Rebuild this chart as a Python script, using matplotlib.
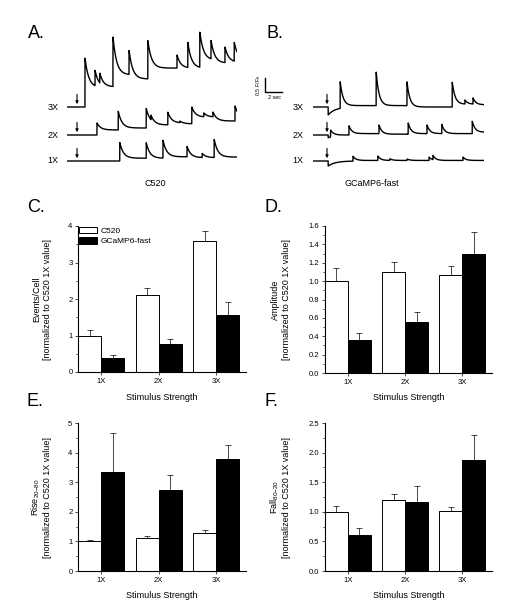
import numpy as np
import matplotlib
matplotlib.use("Agg")
import matplotlib.pyplot as plt
from matplotlib.lines import Line2D
from matplotlib.patches import Patch

plt.rcParams['font.family'] = ['Liberation Sans', 'DejaVu Sans']
plt.rcParams['mathtext.fontset'] = 'custom'
plt.rcParams['mathtext.rm'] = 'Liberation Sans'
plt.rcParams['mathtext.it'] = 'Liberation Sans:italic'

# ---- bar chart data ----
stim = ['1X', '2X', '3X']
series = ['C520', 'GCaMP6-fast']

events_c520 = [1.0, 2.12, 3.6]
events_c520_err = [0.14, 0.19, 0.25]
events_gc = [0.38, 0.78, 1.57]
events_gc_err = [0.09, 0.12, 0.36]

amp_c520 = [1.0, 1.1, 1.07]
amp_c520_err = [0.14, 0.11, 0.10]
amp_gc = [0.36, 0.56, 1.29]
amp_gc_err = [0.07, 0.10, 0.24]

rise_c520 = [1.0, 1.1, 1.27]
rise_c520_err = [0.06, 0.07, 0.10]
rise_gc = [3.35, 2.73, 3.77]
rise_gc_err = [1.3, 0.5, 0.47]

fall_c520 = [1.0, 1.2, 1.01]
fall_c520_err = [0.10, 0.10, 0.07]
fall_gc = [0.6, 1.16, 1.87]
fall_gc_err = [0.12, 0.27, 0.42]

# ---- trace data: event time [s], peak dF/F, level it decays to ----
a3_t = [2.25, 3.5, 4.1, 5.75, 7.75, 10.1, 13.75, 15.1, 16.6, 18.0, 19.75, 20.9]
a3_peak = [1.75, 1.32, 1.21, 2.5, 2.04, 2.39, 1.86, 2.32, 2.68, 2.39, 2.14, 2.32]
a3_floor = [0.7, 0.7, 0.72, 1.15, 1.0, 1.39, 1.39, 1.39, 1.68, 1.57, 1.6, 1.68]

a2_t = [3.75, 6.4, 9.9, 10.5, 12.6, 14.1, 15.6, 17.1, 18.25, 21.0]
a2_peak = [0.43, 0.86, 0.96, 0.71, 0.82, 0.5, 1.0, 0.79, 0.82, 1.04]
a2_floor = [0.18, 0.25, 0.4, 0.36, 0.43, 0.4, 0.64, 0.64, 0.5, 0.6]

a1_t = [6.6, 9.9, 12.0, 15.0, 16.9, 18.4]
a1_peak = [0.66, 0.66, 0.74, 0.53, 0.27, 0.77]
a1_floor = [0.1, 0.1, 0.15, 0.12, 0.12, 0.14]

b3_t = [1.9, 3.4, 7.9, 11.75, 17.4, 19.0, 20.0]
b3_peak = [-0.28, 0.9, 1.25, 0.9, 0.9, 0.25, 0.33]
b3_floor = [0.0, 0.05, 0.05, 0.0, 0.1, 0.1, 0.08]

b2_t = [1.9, 2.2, 4.5, 8.25, 11.9, 14.25, 16.1, 19.9]
b2_peak = [-0.1, 0.18, 0.33, 0.36, 0.43, 0.36, 0.38, 0.5]
b2_floor = [0.0, 0.0, 0.05, 0.03, 0.05, 0.05, 0.05, 0.1]

b1_t = [1.9, 5.0, 8.1, 9.6, 11.75, 14.5, 15.0, 18.75]
b1_peak = [-0.18, 0.17, 0.18, 0.08, 0.07, 0.14, 0.2, 0.14]
b1_floor = [0.0, 0.02, 0.02, 0.02, 0.02, 0.02, 0.02, 0.02]

W, H = 524, 606
fig = plt.figure(figsize=(W / 100, H / 100), dpi=100)


def px_ax(left, top, right, bottom):
    return fig.add_axes([left / W, 1 - bottom / H, (right - left) / W, (bottom - top) / H])


def ftext(x, y, s, **kw):
    fig.text(x / W, 1 - y / H, s, **kw)


def build(tt, ev_t, peaks, floors, tau):
    y = np.zeros_like(tt)
    for i, t0 in enumerate(ev_t):
        t1 = ev_t[i + 1] if i + 1 < len(ev_t) else tt[-1] + 1
        m = (tt >= t0) & (tt < t1)
        # slower recovery for the stimulus artefact dips
        k = tau * 2.5 if peaks[i] < 0 else tau
        y[m] = floors[i] + (peaks[i] - floors[i]) * np.exp(-(tt[m] - t0) / k)
    return y


def trace_panel(left, right, T, traces, arrow_t, tau):
    ax = px_ax(left, 20, right, 172)
    ax.set_xlim(0, T)
    ax.set_ylim(-11 / 28, 141 / 28)
    ax.axis('off')
    tt = np.linspace(0, T, 2000)
    for (ev_t, pk, fl, off) in traces:
        ax.plot(tt, off + build(tt, ev_t, pk, fl, tau), color='k', lw=1.0)
        ax.annotate('', xy=(arrow_t, off + 0.1), xytext=(arrow_t, off + 0.45),
                    arrowprops=dict(arrowstyle='-|>', color='k', lw=0.8,
                                    mutation_scale=4, shrinkA=0, shrinkB=0))
    return ax


offsets = [54 / 28, 26 / 28, 0.0]
trace_panel(67, 237, 21.25,
            [(a3_t, a3_peak, a3_floor, offsets[0]),
             (a2_t, a2_peak, a2_floor, offsets[1]),
             (a1_t, a1_peak, a1_floor, offsets[2])], 1.25, 0.45)
trace_panel(313, 484, 21.375,
            [(b3_t, b3_peak, b3_floor, offsets[0]),
             (b2_t, b2_peak, b2_floor, offsets[1]),
             (b1_t, b1_peak, b1_floor, offsets[2])], 1.75, 0.35)

for lab, yy in zip(['3X', '2X', '1X'], [108, 135, 161]):
    ftext(53, yy, lab, fontsize=6.5, ha='center', va='center')
    ftext(298, yy, lab, fontsize=6.5, ha='center', va='center')
ftext(155, 184, 'C520', fontsize=6.5, ha='center', va='center')
ftext(372, 184, 'GCaMP6-fast', fontsize=6.5, ha='center', va='center')

# scale bar
fig.add_artist(Line2D([265 / W, 265 / W, 282 / W], [1 - 78 / H, 1 - 92 / H, 1 - 92 / H],
                      transform=fig.transFigure, color='k', lw=1))
ftext(259, 85, '0.5 F/F$_0$', fontsize=4, rotation=90, ha='center', va='center')
ftext(274, 97.5, '2 sec', fontsize=4, ha='center', va='center')

# panel letters
for lab, x, y in [('A.', 28, 33), ('B.', 266, 33), ('C.', 27, 207),
                  ('D.', 265, 207), ('E.', 27, 402), ('F.', 265, 402)]:
    ftext(x, y, lab, fontsize=13, ha='left', va='center')


def bar_panel(box, a, a_err, b, b_err, ylim, major, minor, ylabel, fmt, label_dx):
    ax = px_ax(*box)
    x = np.arange(1, 4)
    w = 0.4
    ax.bar(x - w / 2, a, w, color='white', edgecolor='k', lw=0.7, label=series[0])
    ax.bar(x + w / 2, b, w, color='black', edgecolor='k', lw=0.7, label=series[1])
    ax.errorbar(x - w / 2, a, yerr=[np.zeros(3), a_err], fmt='none', ecolor='k',
                elinewidth=0.5, capsize=2, capthick=0.5)
    ax.errorbar(x + w / 2, b, yerr=[np.zeros(3), b_err], fmt='none', ecolor='k',
                elinewidth=0.5, capsize=2, capthick=0.5)
    ax.set_xlim(0.6, 3.52)
    ax.set_ylim(*ylim)
    ax.set_xticks(x)
    ax.set_xticklabels(stim)
    ax.set_yticks(np.arange(ylim[0], ylim[1] + 1e-9, major))
    ax.set_yticks(np.arange(ylim[0], ylim[1] + 1e-9, minor), minor=True)
    ax.yaxis.set_major_formatter(plt.FormatStrFormatter(fmt))
    for s in ['top', 'right']:
        ax.spines[s].set_visible(False)
    for s in ['left', 'bottom']:
        ax.spines[s].set_linewidth(0.8)
    ax.tick_params(which='major', direction='out', length=2.5, width=0.5, labelsize=5.5, pad=1.5)
    ax.tick_params(which='minor', direction='out', length=1.5, width=0.5)
    hpx = box[3] - box[1]
    wpx = box[2] - box[0]
    ax.text(0.5, -25 / hpx, 'Stimulus Strength', transform=ax.transAxes,
            fontsize=6.5, ha='center', va='center')
    ax.text(-label_dx / wpx, 0.5, ylabel, transform=ax.transAxes, rotation=90,
            fontsize=6.5, ha='center', va='center', multialignment='center')
    return ax


axc = bar_panel((78, 226, 246, 372), events_c520, events_c520_err, events_gc, events_gc_err,
                (0, 4), 1, 0.5, 'Events/Cell\n[normalized to C520 1X value]', '%d', 36)
axc.legend(handles=[Patch(facecolor='white', edgecolor='k', lw=0.7, label=series[0]),
                    Patch(facecolor='black', edgecolor='k', lw=0.7, label=series[1])],
           loc='upper left', bbox_to_anchor=(0, 1), borderaxespad=0, borderpad=0.1,
           frameon=False, handlelength=2.2, handleheight=0.8, handletextpad=0.4,
           labelspacing=0.3, fontsize=6)
bar_panel((325, 226, 492, 373), amp_c520, amp_c520_err, amp_gc, amp_gc_err,
          (0, 1.6), 0.2, 0.1, 'Amplitude\n[normalized to C520 1X value]', '%.1f', 44)
bar_panel((78, 423, 246, 571), rise_c520, rise_c520_err, rise_gc, rise_gc_err,
          (0, 5), 1, 0.5, 'Rise$_{20{-}80}$\n[normalized to C520 1X value]', '%d', 37)
bar_panel((325, 423, 492, 571), fall_c520, fall_c520_err, fall_gc, fall_gc_err,
          (0, 2.5), 0.5, 0.25, 'Fall$_{80{-}20}$\n[normalized to C520 1X value]', '%.1f', 45)

fig.savefig('out.png', dpi=100, facecolor='white')
